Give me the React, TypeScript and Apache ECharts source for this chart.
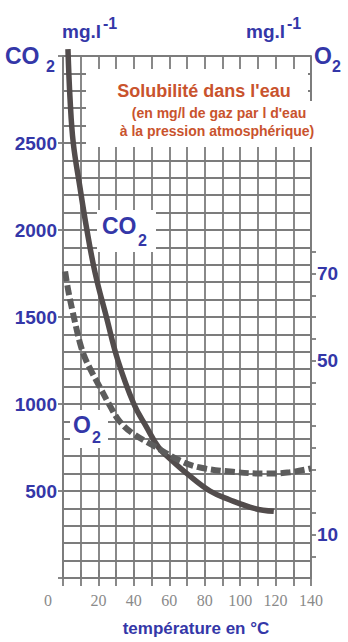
import React, { useEffect, useRef } from "react";
import * as echarts from "echarts";

// CO2 solubility (mg/l) vs temperature (°C) — left axis
const co2Temps = [2.8, 4, 5.8, 9.5, 13.5, 18.2, 24.5, 31, 40, 47, 54, 61, 70, 83, 94, 108, 119];
const co2Values = [3040, 2750, 2500, 2250, 2000, 1750, 1500, 1250, 1000, 870, 750, 680, 600, 500, 450, 400, 383];

// O2 solubility vs temperature — right axis
const o2Temps = [1.2, 3, 5.3, 7.5, 9.6, 12, 15.2, 20.9, 26.5, 32, 39.5, 50.8, 66, 77.4, 96, 115, 128, 140];
const o2Values = [70.5, 66, 61.5, 57.5, 54, 51, 48.2, 43.8, 39.6, 36, 33.2, 30.5, 27, 25.4, 24.4, 24, 24.3, 25.2];

const leftLabels = [500, 1000, 1500, 2000, 2500];
const rightLabels = [10, 50, 70];
const rightTicks = [5, 10, 15, 20, 25, 30, 35, 40, 45, 50, 55, 60, 65, 70, 75];
const xLabels = [0, 20, 40, 60, 80, 100, 120, 140];

const BLUE = "#3437a8";
const ORANGE = "#c9532d";
const GRID = "#7c7c7c";
const GW = 1.8;
const SANS = '"Liberation Sans", Arial, sans-serif';

export default function App() {
  const ref = useRef<HTMLDivElement>(null);
  useEffect(() => {
    if (!ref.current) return;
    const chart = echarts.init(ref.current, null, { renderer: "svg" });
    const sub = (text: string, x: number, y: number, size: number, color = BLUE, z = 4) => ({
      type: "text",
      z,
      style: { text, x, y, fill: color, font: `bold ${size}px ${SANS}`, textVerticalAlign: "middle" },
    });
    chart.setOption({
      animation: false,
      grid: { left: 63, right: 37, top: 56, bottom: 62 },
      xAxis: [
        {
          type: "value",
          min: 0,
          max: 140,
          interval: 10,
          position: "bottom",
          name: "température en °C",
          nameLocation: "middle",
          nameGap: 42,
          nameTextStyle: { color: BLUE, fontWeight: "bold", fontSize: 17, fontFamily: SANS, padding: [0, 0, 0, 18] },
          axisLine: { show: true, lineStyle: { color: GRID, width: GW } },
          axisTick: { show: true, length: 8, lineStyle: { color: GRID, width: GW } },
          splitLine: { show: true, lineStyle: { color: GRID, width: GW } },
          axisLabel: {
            margin: 14,
            color: "#8a8a8a",
            fontFamily: '"Liberation Serif", "Times New Roman", serif',
            fontSize: 16,
            formatter: (v: number) =>
              xLabels.includes(v) ? (v === 0 ? "{z|0}" : String(v)) : "",
            rich: {
              z: {
                color: "#8a8a8a",
                fontFamily: '"Liberation Serif", "Times New Roman", serif',
                fontSize: 16,
                padding: [0, 30, 0, 0],
              },
            },
          },
        },
        {
          type: "value",
          min: 0,
          max: 140,
          interval: 10,
          position: "top",
          axisLine: { show: true, lineStyle: { color: GRID, width: GW } },
          axisTick: { show: true, length: 8, lineStyle: { color: GRID, width: GW } },
          splitLine: { show: false },
          axisLabel: { show: false },
        },
      ],
      yAxis: [
        {
          type: "value",
          min: 0,
          max: 3000,
          interval: 500,
          position: "left",
          axisLine: { show: true, lineStyle: { color: GRID, width: GW } },
          axisTick: { show: true, length: 5, lineStyle: { color: GRID, width: GW } },
          splitLine: { show: false },
          axisLabel: {
            margin: 6,
            color: BLUE,
            fontWeight: "bold",
            fontSize: 19,
            fontFamily: SANS,
            formatter: (v: number) => (leftLabels.includes(v) ? String(v) : ""),
          },
        },
        {
          type: "value",
          min: 0,
          max: 3000,
          interval: 100,
          position: "left",
          axisLine: { show: false },
          axisTick: { show: false },
          axisLabel: { show: false },
          splitLine: { show: true, lineStyle: { color: GRID, width: GW } },
        },
        {
          type: "value",
          min: 0,
          max: 120,
          interval: 5,
          position: "right",
          axisLine: { show: true, lineStyle: { color: GRID, width: GW } },
          axisTick: { show: true, length: 5, customValues: rightTicks, lineStyle: { color: GRID, width: GW } },
          splitLine: { show: false },
          axisLabel: {
            margin: 6,
            color: BLUE,
            fontWeight: "bold",
            fontSize: 19,
            fontFamily: SANS,
            customValues: rightLabels,
          },
        },
      ],
      series: [
        {
          type: "line",
          name: "CO2",
          xAxisIndex: 0,
          yAxisIndex: 0,
          data: co2Temps.map((t, i) => [t, co2Values[i]]),
          smooth: 0.4,
          showSymbol: false,
          clip: false,
          lineStyle: { color: "#524c4c", width: 5.5 },
          z: 3,
        },
        {
          type: "line",
          name: "O2",
          xAxisIndex: 0,
          yAxisIndex: 2,
          data: o2Temps.map((t, i) => [t, o2Values[i]]),
          smooth: 0.4,
          showSymbol: false,
          clip: false,
          lineStyle: { color: "#5c5c5c", width: 6, type: [10, 4] },
          z: 3,
        },
      ],
      graphic: [
        { type: "rect", z: 1, shape: { x: 86, y: 69, width: 222, height: 33 }, style: { fill: "#fff" } },
        { type: "rect", z: 1, shape: { x: 86, y: 101, width: 256, height: 46 }, style: { fill: "#fff" } },
        { type: "rect", z: 1, shape: { x: 97, y: 210, width: 59, height: 42 }, style: { fill: "#fff" } },
        { type: "rect", z: 1, shape: { x: 70, y: 410, width: 38, height: 38 }, style: { fill: "#fff" } },
        {
          type: "text",
          z: 4,
          style: {
            text: "Solubilité dans l'eau",
            x: 204,
            y: 91,
            fill: ORANGE,
            font: `bold 18px ${SANS}`,
            textAlign: "center",
            textVerticalAlign: "middle",
          },
        },
        {
          type: "text",
          z: 4,
          style: {
            text: "(en mg/l de gaz par l d'eau",
            x: 219,
            y: 113,
            fill: ORANGE,
            font: `bold 14px ${SANS}`,
            textAlign: "center",
            textVerticalAlign: "middle",
          },
        },
        {
          type: "text",
          z: 4,
          style: {
            text: "à la pression atmosphérique)",
            x: 217,
            y: 131,
            fill: ORANGE,
            font: `bold 14px ${SANS}`,
            textAlign: "center",
            textVerticalAlign: "middle",
          },
        },
        sub("CO", 5, 56, 23),
        sub("2", 46, 66, 16),
        sub("mg.l", 62, 31, 19),
        sub("-1", 103, 23, 16),
        sub("mg.l", 246, 31, 19),
        sub("-1", 287, 23, 16),
        sub("O", 314, 56, 23),
        sub("2", 332, 66, 16),
        sub("CO", 102, 226, 23),
        sub("2", 138, 240, 16),
        sub("O", 73, 425, 23),
        sub("2", 92, 437, 16),
      ],
    });
    return () => chart.dispose();
  }, []);
  return (
    <div
      ref={ref}
      style={{ position: "absolute", left: 0, top: 0, width: 348, height: 642, background: "#fff" }}
    />
  );
}
